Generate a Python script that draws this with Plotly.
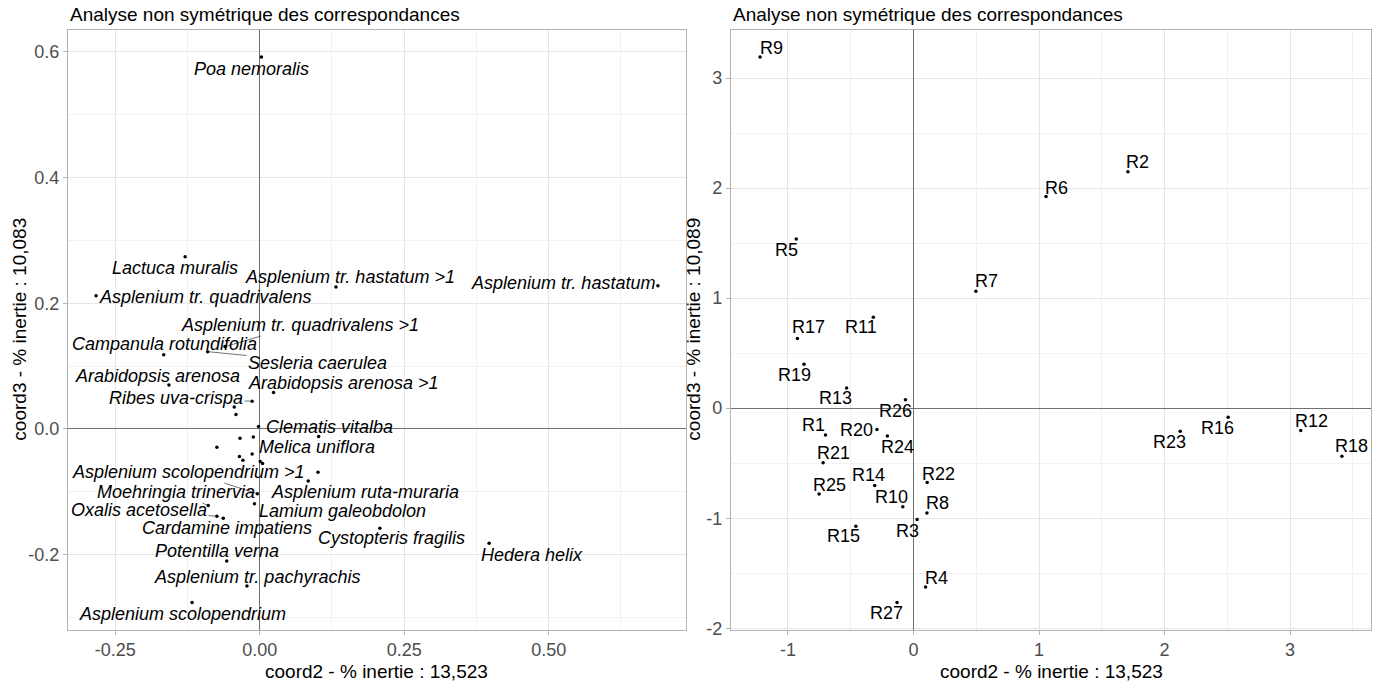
import plotly.graph_objects as go

# ---------------- data : left panel (species) ----------------
species = [
    "Poa nemoralis", "Lactuca muralis", "Asplenium tr. quadrivalens",
    "Asplenium tr. hastatum >1", "Asplenium tr. hastatum",
    "Asplenium tr. quadrivalens >1", "Campanula rotundifolia", "Sesleria caerulea",
    "Arabidopsis arenosa", "Arabidopsis arenosa >1", "Ribes uva-crispa",
    "Clematis vitalba", "Melica uniflora", "Asplenium scolopendrium >1",
    "Asplenium ruta-muraria", "Moehringia trinervia", "Lamium galeobdolon",
    "Oxalis acetosella", "Cardamine impatiens", "Cystopteris fragilis",
    "Hedera helix", "Potentilla verna", "Asplenium tr. pachyrachis",
    "Asplenium scolopendrium",
]
sp_x = [0.003, -0.129, -0.283, 0.132, 0.689, -0.060, -0.166, -0.090, -0.157, 0.024,
        -0.013, -0.002, 0.102, -0.004, 0.084, -0.089, -0.009, -0.074, -0.063, 0.208,
        0.397, -0.057, -0.022, -0.117]
sp_y = [0.592, 0.274, 0.212, 0.226, 0.228, 0.131, 0.118, 0.123, 0.070, 0.058,
        0.044, 0.004, -0.012, -0.103, -0.083, -0.122, -0.119, -0.139, -0.142, -0.158,
        -0.182, -0.210, -0.250, -0.276]
# points without a visible label
other_x = [-0.044, -0.041, -0.034, -0.011, -0.074, -0.013, -0.035, -0.029, 0.001, 0.005, 0.101]
other_y = [0.035, 0.023, -0.015, -0.013, -0.029, -0.040, -0.044, -0.050, -0.052, -0.055, -0.069]

# ---------------- data : right panel (relevés) ----------------
releves = ["R1", "R2", "R3", "R4", "R5", "R6", "R7", "R8", "R9", "R10", "R11", "R12",
           "R13", "R14", "R15", "R16", "R17", "R18", "R19", "R20", "R21", "R22", "R23",
           "R24", "R25", "R26", "R27"]
rel_x = [-0.701, 1.708, 0.029, 0.096, -0.934, 1.056, 0.497, 0.107, -1.222, -0.085,
         -0.320, 3.085, -0.533, -0.309, -0.459, 2.507, -0.925, 3.413, -0.872, -0.291,
         -0.720, 0.109, 2.125, -0.208, -0.752, -0.064, -0.131]
rel_y = [-0.245, 2.148, -1.012, -1.625, 1.538, 1.923, 1.062, -0.953, 3.192, -0.897,
         0.826, -0.204, 0.183, -0.702, -1.074, -0.083, 0.634, -0.437, 0.398, -0.195,
         -0.496, -0.676, -0.209, -0.254, -0.779, 0.077, -1.765]

# ---------------- ticks / texts ----------------
left_xticks = [-0.25, 0.0, 0.25, 0.5]
left_xticktext = ["-0.25", "0.00", "0.25", "0.50"]
left_yticks = [-0.2, 0.0, 0.2, 0.4, 0.6]
left_yticktext = ["-0.2", "0.0", "0.2", "0.4", "0.6"]
right_xticks = [-1, 0, 1, 2, 3]
right_xticktext = ["-1", "0", "1", "2", "3"]
right_yticks = [-2, -1, 0, 1, 2, 3]
right_yticktext = ["-2", "-1", "0", "1", "2", "3"]

title_text = "Analyse non symétrique des correspondances"
xlab = "coord2 - % inertie : 13,523"
ylab_left = "coord3 - % inertie : 10,083"
ylab_right = "coord3 - % inertie : 10,089"

# ---------------- label placement (pixel offsets, screen: +dy = down) ----------------
sp_dx = [-10, -10, 109, 14, -95, 75, 1, 110, -11, 70, -76, 71, -2, -69, 57, -32, 88, -78, 4, 12, 43, -10, 10, -10]
sp_dy = [12, 11, 1, -10, -3, -22, -11, 11, -9, -9, -3, 1, 11, -22, 11, -14, 7, -6, 10, 10, 12, -10, -9, 12]
sp_leader = [False, False, False, False, False, True, False, True, False, False, True, False,
             False, True, False, True, False, True, False, False, False, False, False, False]
rel_dx = [-12, 10, -10, 11, -10, 10, 11, 11, 11, -11, -12, 11, -11, -6, -12, -11, 11, 10,
          -10, -20, 10, 11, -11, 10, 10, -10, -11]
rel_dy = [-10, -10, 11, -9, 11, -9, -10, -10, -9, -10, 10, -10, 10, -10, 10, 11, -11, -10,
          11, 0, -10, -9, 11, 11, -9, 11, 11]

W, H = 1379, 688
FONT = "Liberation Sans, Arial, sans-serif"


def expand(vals, m=0.05):
    lo, hi = min(vals), max(vals)
    pad = (hi - lo) * m
    return [lo - pad, hi + pad]


fig = go.Figure()
fig.add_trace(go.Scatter(x=sp_x + other_x, y=sp_y + other_y, mode="markers",
                         marker=dict(color="black", size=3.5), xaxis="x", yaxis="y",
                         hoverinfo="skip", showlegend=False))
fig.add_trace(go.Scatter(x=rel_x, y=rel_y, mode="markers",
                         marker=dict(color="black", size=3.5), xaxis="x2", yaxis="y2",
                         hoverinfo="skip", showlegend=False))

annotations = []
for name, x, y, dx, dy, lead in zip(species, sp_x, sp_y, sp_dx, sp_dy, sp_leader):
    a = dict(x=x, y=y, xref="x", yref="y", text="<i>" + name + "</i>",
             font=dict(family=FONT, size=18, color="black"))
    if lead:
        a.update(showarrow=True, ax=dx, ay=dy, arrowhead=0, arrowwidth=0.7,
                 arrowcolor="#333333", standoff=1)
    else:
        a.update(showarrow=False, xshift=dx, yshift=-dy, xanchor="center", yanchor="middle")
    annotations.append(a)
for name, x, y, dx, dy in zip(releves, rel_x, rel_y, rel_dx, rel_dy):
    annotations.append(dict(x=x, y=y, xref="x2", yref="y2", text=name, showarrow=False,
                            xshift=dx, yshift=-dy, xanchor="center", yanchor="middle",
                            font=dict(family=FONT, size=18, color="black")))

L_panel = (68, 686)
R_panel = (731, 1371)
T, B = 30, 638

# titles
for x0 in (L_panel[0], R_panel[0]):
    annotations.append(dict(x=x0 / W, y=1 - 15 / H, xref="paper", yref="paper",
                            text=title_text, showarrow=False, xanchor="left", yanchor="middle",
                            font=dict(family=FONT, size=19, color="black")))
# x titles
for p in (L_panel, R_panel):
    annotations.append(dict(x=(p[0] + p[1]) / 2 / W, y=1 - 680 / H, xref="paper", yref="paper",
                            text=xlab, showarrow=False, xanchor="center", yanchor="middle",
                            font=dict(family=FONT, size=19, color="black")))
# y titles
annotations.append(dict(x=20 / W, y=1 - (T + B) / 2 / H, xref="paper", yref="paper",
                        text=ylab_left, showarrow=False, textangle=-90,
                        xanchor="center", yanchor="middle",
                        font=dict(family=FONT, size=19, color="black")))
annotations.append(dict(x=694 / W, y=1 - (T + B) / 2 / H, xref="paper", yref="paper",
                        text=ylab_right, showarrow=False, textangle=-90,
                        xanchor="center", yanchor="middle",
                        font=dict(family=FONT, size=19, color="black")))


def axis_style(tickvals, ticktext, minor_dtick, rng, domain, anchor):
    return dict(
        range=rng, domain=domain, anchor=anchor,
        tickmode="array", tickvals=tickvals, ticktext=ticktext,
        showline=True, mirror=True, linecolor="#B3B3B3", linewidth=1.2,
        showgrid=True, gridcolor="#E6E6E6", gridwidth=1,
        zeroline=True, zerolinecolor="#707070", zerolinewidth=1.3,
        ticks="outside", ticklen=4, tickwidth=1, tickcolor="#B3B3B3",
        tickfont=dict(family=FONT, size=18, color="#4D4D4D"),
        minor=dict(tickmode="linear", tick0=0, dtick=minor_dtick, showgrid=True,
                   gridcolor="#F2F2F2", gridwidth=1, ticks=""),
        fixedrange=True,
    )


ydom = [1 - B / H, 1 - T / H]
fig.update_layout(
    width=W, height=H, margin=dict(l=0, r=0, t=0, b=0),
    paper_bgcolor="white", plot_bgcolor="white", showlegend=False,
    font=dict(family=FONT),
    xaxis=axis_style(left_xticks, left_xticktext, 0.125, expand(sp_x + other_x),
                     [L_panel[0] / W, L_panel[1] / W], "y"),
    yaxis=axis_style(left_yticks, left_yticktext, 0.1, expand(sp_y + other_y), ydom, "x"),
    xaxis2=axis_style(right_xticks, right_xticktext, 0.5, expand(rel_x),
                      [R_panel[0] / W, R_panel[1] / W], "y2"),
    yaxis2=axis_style(right_yticks, right_yticktext, 0.5, expand(rel_y), ydom, "x2"),
    annotations=annotations,
)

fig.write_html("out.html", config={"displayModeBar": False},
               post_script="document.body.style.margin='0';document.body.style.overflow='hidden';")
